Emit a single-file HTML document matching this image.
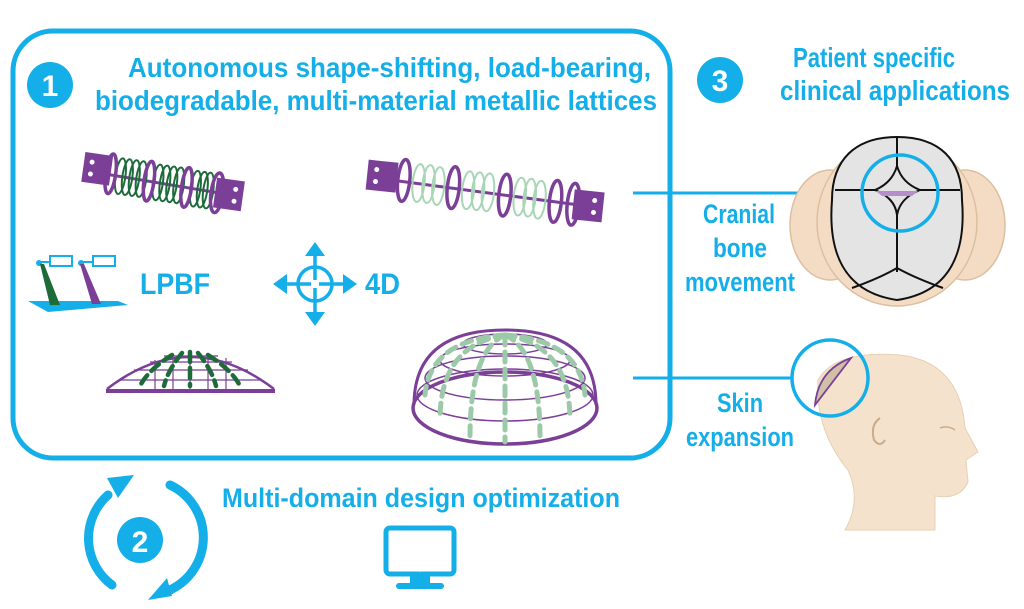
<!DOCTYPE html>
<html><head><meta charset="utf-8"><style>
html,body{margin:0;padding:0;background:#fff;}
svg{display:block}
text{font-family:"Liberation Sans Narrow","Liberation Sans",sans-serif;font-weight:bold;fill:#14aee8;}
</style></head><body>
<svg width="1024" height="609" viewBox="0 0 1024 609" xmlns="http://www.w3.org/2000/svg">
<!-- main box -->
<rect x="13" y="31" width="657" height="427" rx="40" fill="none" stroke="#14aee8" stroke-width="5"/>
<!-- 1 -->
<circle cx="50" cy="85" r="23" fill="#14aee8"/>
<text x="50" y="96" font-size="30" text-anchor="middle" style="fill:#fff;font-family:'Liberation Sans',sans-serif">1</text>
<text x="128" y="77" font-size="28" textLength="523" lengthAdjust="spacingAndGlyphs">Autonomous shape-shifting, load-bearing,</text>
<text x="95" y="110" font-size="28" textLength="562" lengthAdjust="spacingAndGlyphs">biodegradable, multi-material metallic lattices</text>
<!-- 3 -->
<circle cx="720" cy="80" r="23" fill="#14aee8"/>
<text x="720" y="91" font-size="30" text-anchor="middle" style="fill:#fff;font-family:'Liberation Sans',sans-serif">3</text>
<text x="793" y="67" font-size="28" textLength="162" lengthAdjust="spacingAndGlyphs">Patient specific</text>
<text x="780" y="100" font-size="28" textLength="230" lengthAdjust="spacingAndGlyphs">clinical applications</text>

<!-- spring 1 -->
<g transform="rotate(8 162 182)">
<rect x="82" y="163" width="28" height="30" fill="#7b3f98"/>
<circle cx="90" cy="172" r="2.5" fill="#fff"/><circle cx="90" cy="184" r="2.5" fill="#fff"/>
<rect x="216" y="170" width="28" height="30" fill="#7b3f98"/>
<circle cx="236" cy="179" r="2.5" fill="#fff"/><circle cx="236" cy="191" r="2.5" fill="#fff"/>
<line x1="105" y1="182" x2="222" y2="185" stroke="#7b3f98" stroke-width="3"/>
<g stroke="#1e6b3a" fill="none" stroke-width="2">
<ellipse cx="120" cy="182" rx="5" ry="18"/><ellipse cx="127" cy="182" rx="5" ry="18"/><ellipse cx="134" cy="182" rx="5" ry="18"/><ellipse cx="141" cy="182" rx="5" ry="18"/>
<ellipse cx="158" cy="183" rx="5" ry="18"/><ellipse cx="165" cy="183" rx="5" ry="18"/><ellipse cx="172" cy="183" rx="5" ry="18"/><ellipse cx="179" cy="183" rx="5" ry="18"/>
<ellipse cx="196" cy="184" rx="5" ry="18"/><ellipse cx="203" cy="184" rx="5" ry="18"/><ellipse cx="209" cy="184" rx="5" ry="18"/>
</g>
<g stroke="#7b3f98" fill="none" stroke-width="3.5">
<ellipse cx="110" cy="181" rx="5" ry="20"/><ellipse cx="149" cy="183" rx="5" ry="20"/><ellipse cx="187" cy="184" rx="5" ry="20"/><ellipse cx="218" cy="185" rx="6" ry="20"/>
</g>
</g>
<!-- spring 2 -->
<g transform="rotate(6 485 192)">
<rect x="366" y="172" width="30" height="30" fill="#7b3f98"/>
<circle cx="375" cy="181" r="2.5" fill="#fff"/><circle cx="375" cy="193" r="2.5" fill="#fff"/>
<rect x="574" y="180" width="30" height="30" fill="#7b3f98"/>
<circle cx="595" cy="189" r="2.5" fill="#fff"/><circle cx="595" cy="201" r="2.5" fill="#fff"/>
<line x1="395" y1="190" x2="575" y2="195" stroke="#7b3f98" stroke-width="3"/>
<g stroke="#a8d5b5" fill="none" stroke-width="2">
<ellipse cx="418" cy="190" rx="6" ry="19"/><ellipse cx="428" cy="190" rx="6" ry="19"/><ellipse cx="438" cy="191" rx="6" ry="19"/>
<ellipse cx="468" cy="192" rx="6" ry="19"/><ellipse cx="478" cy="192" rx="6" ry="19"/><ellipse cx="488" cy="192" rx="6" ry="19"/>
<ellipse cx="520" cy="193" rx="6" ry="19"/><ellipse cx="530" cy="193" rx="6" ry="19"/><ellipse cx="540" cy="194" rx="6" ry="19"/>
</g>
<g stroke="#7b3f98" fill="none" stroke-width="3.5">
<ellipse cx="403" cy="189" rx="6" ry="21"/><ellipse cx="453" cy="191" rx="6" ry="21"/><ellipse cx="505" cy="193" rx="6" ry="21"/><ellipse cx="556" cy="194" rx="6" ry="21"/><ellipse cx="574" cy="195" rx="6" ry="21"/>
</g>
</g>

<!-- LPBF icon -->
<polygon points="28,301 118,301 128,305 48,312" fill="#14aee8"/>
<rect x="50" y="256" width="22" height="10" fill="none" stroke="#14aee8" stroke-width="2"/>
<rect x="93" y="256" width="22" height="10" fill="none" stroke="#14aee8" stroke-width="2"/>
<line x1="39" y1="262" x2="50" y2="262" stroke="#14aee8" stroke-width="2"/>
<line x1="81" y1="262" x2="93" y2="262" stroke="#14aee8" stroke-width="2"/>
<circle cx="39" cy="263" r="3" fill="#14aee8"/><circle cx="81" cy="263" r="3" fill="#14aee8"/>
<polygon points="40,264 44,264 60,305 50,305" fill="#1e6b3a"/>
<polygon points="80,264 84,264 101,304 92,304" fill="#7b3f98"/>
<text x="140" y="294" font-size="30" textLength="70" lengthAdjust="spacingAndGlyphs">LPBF</text>

<!-- 4D icon -->
<g stroke="#14aee8" stroke-width="3.5" fill="none">
<circle cx="315" cy="284" r="17"/>
<line x1="315" y1="250" x2="315" y2="318"/>
<line x1="281" y1="284" x2="349" y2="284"/>
</g>
<rect x="311" y="280" width="8" height="8" fill="#fff"/>
<g fill="#14aee8">
<polygon points="315,242 305,256 325,256"/>
<polygon points="315,326 305,312 325,312"/>
<polygon points="273,284 287,274 287,294"/>
<polygon points="357,284 343,274 343,294"/>
</g>
<text x="365" y="294" font-size="30" textLength="35" lengthAdjust="spacingAndGlyphs">4D</text>

<!-- dome 1 -->
<g fill="none" stroke="#7b3f98">
<path d="M107 389 Q190 325 274 389" stroke-width="2.5"/>
<line x1="106" y1="391" x2="275" y2="391" stroke-width="4"/>
<line x1="120" y1="380" x2="262" y2="380" stroke-width="1.2"/>
<line x1="134" y1="370" x2="248" y2="370" stroke-width="1.2"/>
<line x1="150" y1="362" x2="232" y2="362" stroke-width="1.2"/>
<line x1="164" y1="356" x2="218" y2="356" stroke-width="1.2"/>
<line x1="155" y1="360" x2="155" y2="389" stroke-width="1.2"/>
<line x1="173" y1="354" x2="173" y2="389" stroke-width="1.2"/>
<line x1="190" y1="352" x2="190" y2="389" stroke-width="1.2"/>
<line x1="208" y1="354" x2="208" y2="389" stroke-width="1.2"/>
<line x1="226" y1="358" x2="226" y2="389" stroke-width="1.2"/>
</g>
<g fill="none" stroke="#1e6b3a" stroke-width="4.5" stroke-dasharray="10 6" stroke-linecap="round">
<path d="M172 355 Q148 370 140 386"/>
<path d="M182 353 Q168 370 164 386"/>
<path d="M190 352 L190 386"/>
<path d="M198 353 Q212 370 216 386"/>
<path d="M208 355 Q232 370 240 386"/>
</g>

<!-- dome 2 -->
<g fill="none" stroke="#7b3f98" stroke-width="1.5">
<path d="M414 405 Q414 330 505 330 Q596 330 596 405" stroke-width="3"/>
<ellipse cx="505" cy="408" rx="92" ry="36" stroke-width="3.5"/>
<ellipse cx="505" cy="395" rx="88" ry="26"/>
<ellipse cx="505" cy="378" rx="80" ry="22"/>
<ellipse cx="505" cy="360" rx="65" ry="16"/>
<ellipse cx="505" cy="344" rx="42" ry="10"/>
</g>
<g fill="none" stroke="#9cc9a8" stroke-width="5" stroke-dasharray="10 7" stroke-linecap="round">
<path d="M505 335 Q440 345 440 420"/>
<path d="M505 335 Q470 350 470 438"/>
<path d="M505 335 L505 442"/>
<path d="M505 335 Q540 350 540 438"/>
<path d="M505 335 Q570 345 570 420"/>
<path d="M505 335 Q430 340 425 395"/>
<path d="M505 335 Q580 340 585 395"/>
</g>

<!-- connector lines -->
<line x1="633" y1="193" x2="862" y2="193" stroke="#14aee8" stroke-width="3"/>
<line x1="633" y1="378" x2="793" y2="378" stroke="#14aee8" stroke-width="3"/>

<!-- skull -->
<ellipse cx="830" cy="225" rx="40" ry="55" fill="#f4dcc4" stroke="#dcbf9f" stroke-width="1.5"/>
<ellipse cx="965" cy="225" rx="40" ry="55" fill="#f4dcc4" stroke="#dcbf9f" stroke-width="1.5"/>
<ellipse cx="897" cy="222" rx="80" ry="84" fill="#f4dcc4" stroke="#dcbf9f" stroke-width="1.5"/>
<path d="M897 137 C940 137 962 160 962 200 C966 250 952 292 897 300 C842 292 828 250 832 200 C832 160 855 137 897 137 Z" fill="#e4e4e4" stroke="#111" stroke-width="2"/>
<g stroke="#111" stroke-width="2" fill="none">
<line x1="897" y1="137" x2="897" y2="166"/>
<path d="M897 166 Q892 183 875 190 L835 190"/>
<path d="M897 166 Q902 183 920 190 L960 190"/>
<path d="M875 190 Q895 198 897 215 Q900 198 920 190"/>
<line x1="897" y1="215" x2="897" y2="272"/>
<path d="M852 288 Q880 278 897 268 Q915 278 943 288"/>
</g>
<path d="M876 191 L918 191 L912 196 L882 196 Z" fill="#b58fc9"/>
<circle cx="900" cy="193" r="38" fill="none" stroke="#14aee8" stroke-width="3.5"/>

<!-- head -->
<path d="M818 380 Q835 350 900 355 Q960 362 965 428 L978 452 L966 460 L968 482 Q960 500 935 496 L935 530 L845 530 Q862 500 848 470 Q815 430 818 380 Z" fill="#f5e2cc" stroke="#e8d0b4" stroke-width="1"/>
<path d="M880 418 Q870 425 874 440 Q880 448 885 440" fill="none" stroke="#c9ab8c" stroke-width="2"/>
<path d="M940 428 Q948 425 955 430" fill="none" stroke="#c9ab8c" stroke-width="1.5"/>
<path d="M815 405 Q818 370 851 358 Z" fill="#cfc0a6" stroke="#7b3f98" stroke-width="1.8"/>
<circle cx="830" cy="378" r="38" fill="none" stroke="#14aee8" stroke-width="3.5"/>

<text x="703" y="223" font-size="27" textLength="72" lengthAdjust="spacingAndGlyphs">Cranial</text>
<text x="713" y="257" font-size="27" textLength="54" lengthAdjust="spacingAndGlyphs">bone</text>
<text x="685" y="291" font-size="27" textLength="110" lengthAdjust="spacingAndGlyphs">movement</text>
<text x="717" y="412" font-size="27" textLength="46" lengthAdjust="spacingAndGlyphs">Skin</text>
<text x="686" y="446" font-size="27" textLength="108" lengthAdjust="spacingAndGlyphs">expansion</text>

<!-- 2 -->
<path d="M112 585 A58 58 0 0 1 108 495" fill="none" stroke="#14aee8" stroke-width="9" stroke-linecap="round"/>
<polygon points="107,478 134,475 118,498" fill="#14aee8"/>
<path d="M170 485 A58 58 0 0 1 170 590" fill="none" stroke="#14aee8" stroke-width="9" stroke-linecap="round"/>
<polygon points="148,600 167,578 172,596" fill="#14aee8"/>
<circle cx="140" cy="540" r="23" fill="#14aee8"/>
<text x="140" y="552" font-size="30" text-anchor="middle" style="fill:#fff;font-family:'Liberation Sans',sans-serif">2</text>
<text x="222" y="507" font-size="27" textLength="398" lengthAdjust="spacingAndGlyphs">Multi-domain design optimization</text>
<!-- monitor -->
<rect x="386" y="528" width="68" height="46" rx="4" fill="none" stroke="#14aee8" stroke-width="5"/>
<circle cx="420" cy="570" r="1.8" fill="#fff"/>
<rect x="410" y="575" width="20" height="10" fill="#14aee8"/>
<rect x="396" y="583" width="48" height="6" rx="3" fill="#14aee8"/>
</svg>
</body></html>
